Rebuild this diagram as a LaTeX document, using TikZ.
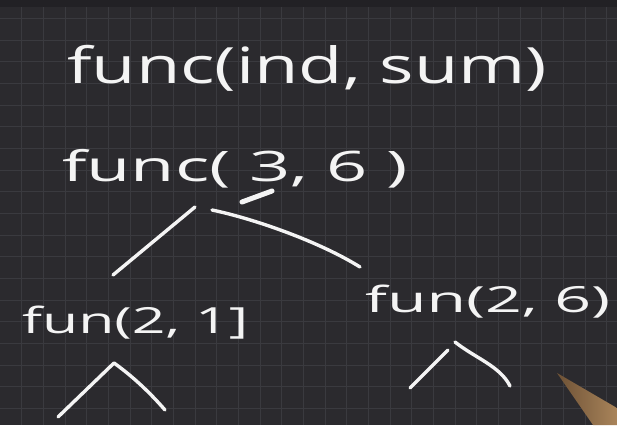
\documentclass[tikz,border=0pt]{standalone}
\usepackage{fontspec}
\setmainfont{Open Sans}
\usepackage{graphicx}
\definecolor{board}{HTML}{2B2A2E}
\definecolor{boardtop}{HTML}{222125}
\definecolor{gridc}{HTML}{3A3A3F}
\definecolor{ink}{HTML}{F4F4F4}
\definecolor{pena}{HTML}{6E5236}
\definecolor{penb}{HTML}{A9845A}
\tikzset{
  gridline/.style={draw=gridc, line width=0.8pt},
  hand/.style={text=ink, inner sep=0pt, anchor=base west},
  stroke/.style={draw=ink, line width=3.4pt, line cap=round, line join=round},
}
\begin{document}
\begin{tikzpicture}[x=1pt,y=-1pt]
\useasboundingbox (0,0) rectangle (617,425);
\fill[board] (0,0) rectangle (617,425);
\fill[boardtop] (0,0) rectangle (617,7);
\foreach \i in {1,...,28} \draw[gridline] ({21.67*\i},7) -- ({21.67*\i},425);
\foreach \j in {0,...,19} \draw[gridline] (0,{18.3+21.67*\j}) -- (617,{18.3+21.67*\j});

% texts
\node[hand, font=\fontsize{50}{56}\selectfont] (top) at (67,84)
  {\resizebox{480pt}{\height}{func(ind, sum)}};
\node[hand, font=\fontsize{42}{48}\selectfont] (root) at (62,181)
  {\resizebox{346pt}{\height}{func( 3, 6 )}};
\node[hand, font=\fontsize{36}{42}\selectfont] (left) at (22,333)
  {\resizebox{226pt}{\height}{fun(2, 1]}};
\node[hand, font=\fontsize{36}{42}\selectfont] (right) at (365,312)
  {\resizebox{245pt}{\height}{fun(2, 6)}};

% named points for free stroke ends
\coordinate (u1) at (242,202);
\coordinate (u2) at (272,191);
\coordinate (fl) at (195,207);
\coordinate (fr) at (212,210);
\coordinate (el) at (113,275);
\coordinate (er) at (360,267);
\coordinate (la) at (58,417);
\coordinate (lb) at (114,363);
\coordinate (lc) at (165,410);
\coordinate (ra) at (410,388);
\coordinate (rb) at (448,350);
\coordinate (rc) at (455,342);
\coordinate (rd) at (510,386);

% underline of 3
\draw[stroke, line width=5pt] (u1) -- (u2);
% branches from root
\draw[stroke] (fl) -- (el);
\draw[stroke] (fr) .. controls (255,219) and (320,242) .. (er);
% carets under the children
\draw[stroke] (la) -- (lb) .. controls (135,378) and (152,395) .. (lc);
\draw[stroke] (ra) -- (rb);
\draw[stroke] (rc) .. controls (475,358) and (500,366) .. (rd);

% pen cursor
\shade[left color=pena, right color=penb] (557,373) -- (617,408) -- (617,425) -- (593,425) -- cycle;
\end{tikzpicture}
\end{document}
